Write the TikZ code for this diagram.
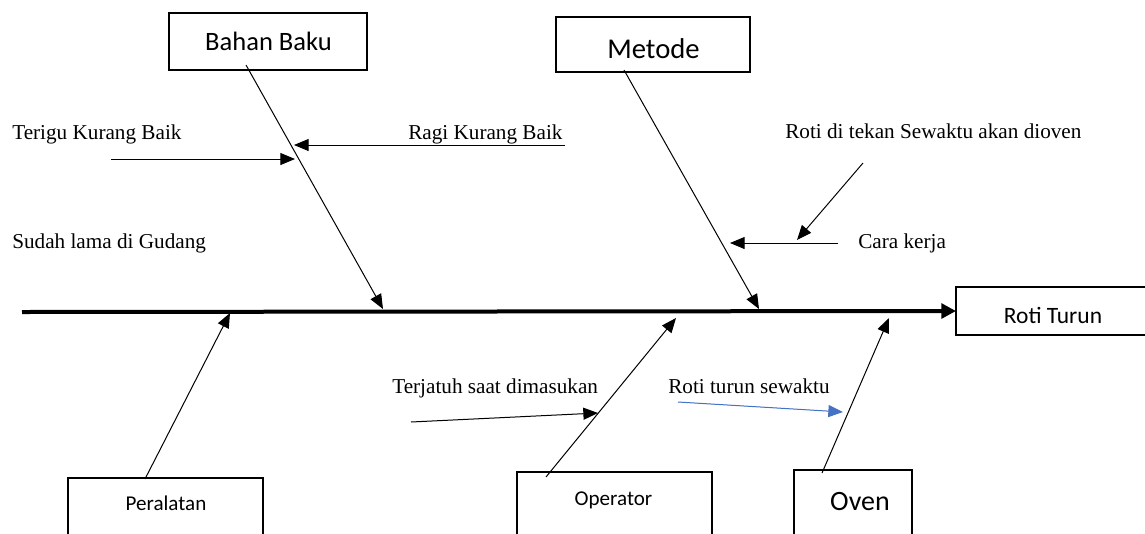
\documentclass[tikz,border=0pt]{standalone}
\usepackage{fontspec}
\setmainfont{Liberation Serif}
\newfontfamily\boxfont{Carlito}
\usetikzlibrary{arrows.meta}
\definecolor{wordblue}{HTML}{4472C4}
\begin{document}
\begin{tikzpicture}[x=0.75pt,y=-0.75pt,
  frame/.style={line width=1.5pt},
  spine/.style={line width=3pt,-{Triangle[length=11pt,width=11pt]}},
  bone/.style={line width=0.75pt,-{Triangle[length=11pt,width=9pt]}},
  cause/.style={anchor=base west,inner sep=0pt,font=\fontsize{15.9}{18}\selectfont},
  cat/.style={anchor=base,inner sep=0pt},
]
\path[use as bounding box,clip] (0,0) rectangle (1145,533);

% category frames
\draw[frame] (169,13) rectangle (367,70);
\draw[frame] (556,17) rectangle (750,72);
\draw[frame] (956,287) rectangle (1160,335);
\draw[frame] (68,478) rectangle (263,545);
\draw[frame] (517,472) rectangle (712,545);
\draw[frame] (794,470) rectangle (912,545);

% category labels
\node[cat,font=\boxfont\fontsize{19.9}{22}\selectfont] (bahan) at (268.5,50) {Bahan Baku};
\node[cat,font=\boxfont\fontsize{21.5}{24}\selectfont] (metode) at (653.5,58) {Metode};
\node[cat,font=\boxfont\fontsize{17.6}{20}\selectfont] (roti) at (1053,323) {Roti Turun};
\node[cat,font=\boxfont\fontsize{15.8}{18}\selectfont] (alat) at (166,510) {Peralatan};
\node[cat,font=\boxfont\fontsize{15.8}{18}\selectfont] (operator) at (613.5,505) {Operator};
\node[cat,font=\boxfont\fontsize{21}{24}\selectfont] (oven) at (860,510) {Oven};

% cause labels
\node[cause] (terigu) at (12,139) {Terigu Kurang Baik};
\node[cause] (ragi) at (408,139) {Ragi Kurang Baik};
\node[cause] (gudang) at (12,248) {Sudah lama di Gudang};
\node[cause] (tekan) at (785,138) {Roti di tekan Sewaktu akan dioven};
\node[cause] (cara) at (858,248) {Cara kerja};
\node[cause] (jatuh) at (392,393) {Terjatuh saat dimasukan};
\node[cause] (sewaktu) at (668,393) {Roti turun sewaktu};

% spine
\coordinate (tail) at (22,312);
\coordinate (head) at (956,311);
\draw[spine] (tail) -- (head);

% main bones
\coordinate (bB0) at (246,65);  \coordinate (bB1) at (383,309);
\coordinate (mT0) at (624,70);  \coordinate (mT1) at (759,309);
\coordinate (pL0) at (145,479); \coordinate (pL1) at (230,313);
\coordinate (oP0) at (546,477); \coordinate (oP1) at (676,318);
\coordinate (oV0) at (822,473); \coordinate (oV1) at (889,318);
\draw[bone] (bB0) -- (bB1);
\draw[bone] (mT0) -- (mT1);
\draw[bone] (pL0) -- (pL1);
\draw[bone] (oP0) -- (oP1);
\draw[bone] (oV0) -- (oV1);

% sub-causes
\coordinate (tg0) at (111,159); \coordinate (tg1) at (295,159);
\coordinate (rg0) at (565,145); \coordinate (rg1) at (294,145);
\coordinate (ck0) at (838,243); \coordinate (ck1) at (730,243);
\coordinate (tk0) at (863,163); \coordinate (tk1) at (797,240);
\coordinate (tj0) at (411,422); \coordinate (tj1) at (598,413);
\coordinate (sw0) at (678,402); \coordinate (sw1) at (843,412);
\draw[bone] (tg0) -- (tg1);
\draw[bone] (rg0) -- (rg1);
\draw[bone] (ck0) -- (ck1);
\draw[bone] (tk0) -- (tk1);
\draw[bone] (tj0) -- (tj1);
\draw[bone,draw=wordblue,fill=wordblue] (sw0) -- (sw1);
\end{tikzpicture}
\end{document}
